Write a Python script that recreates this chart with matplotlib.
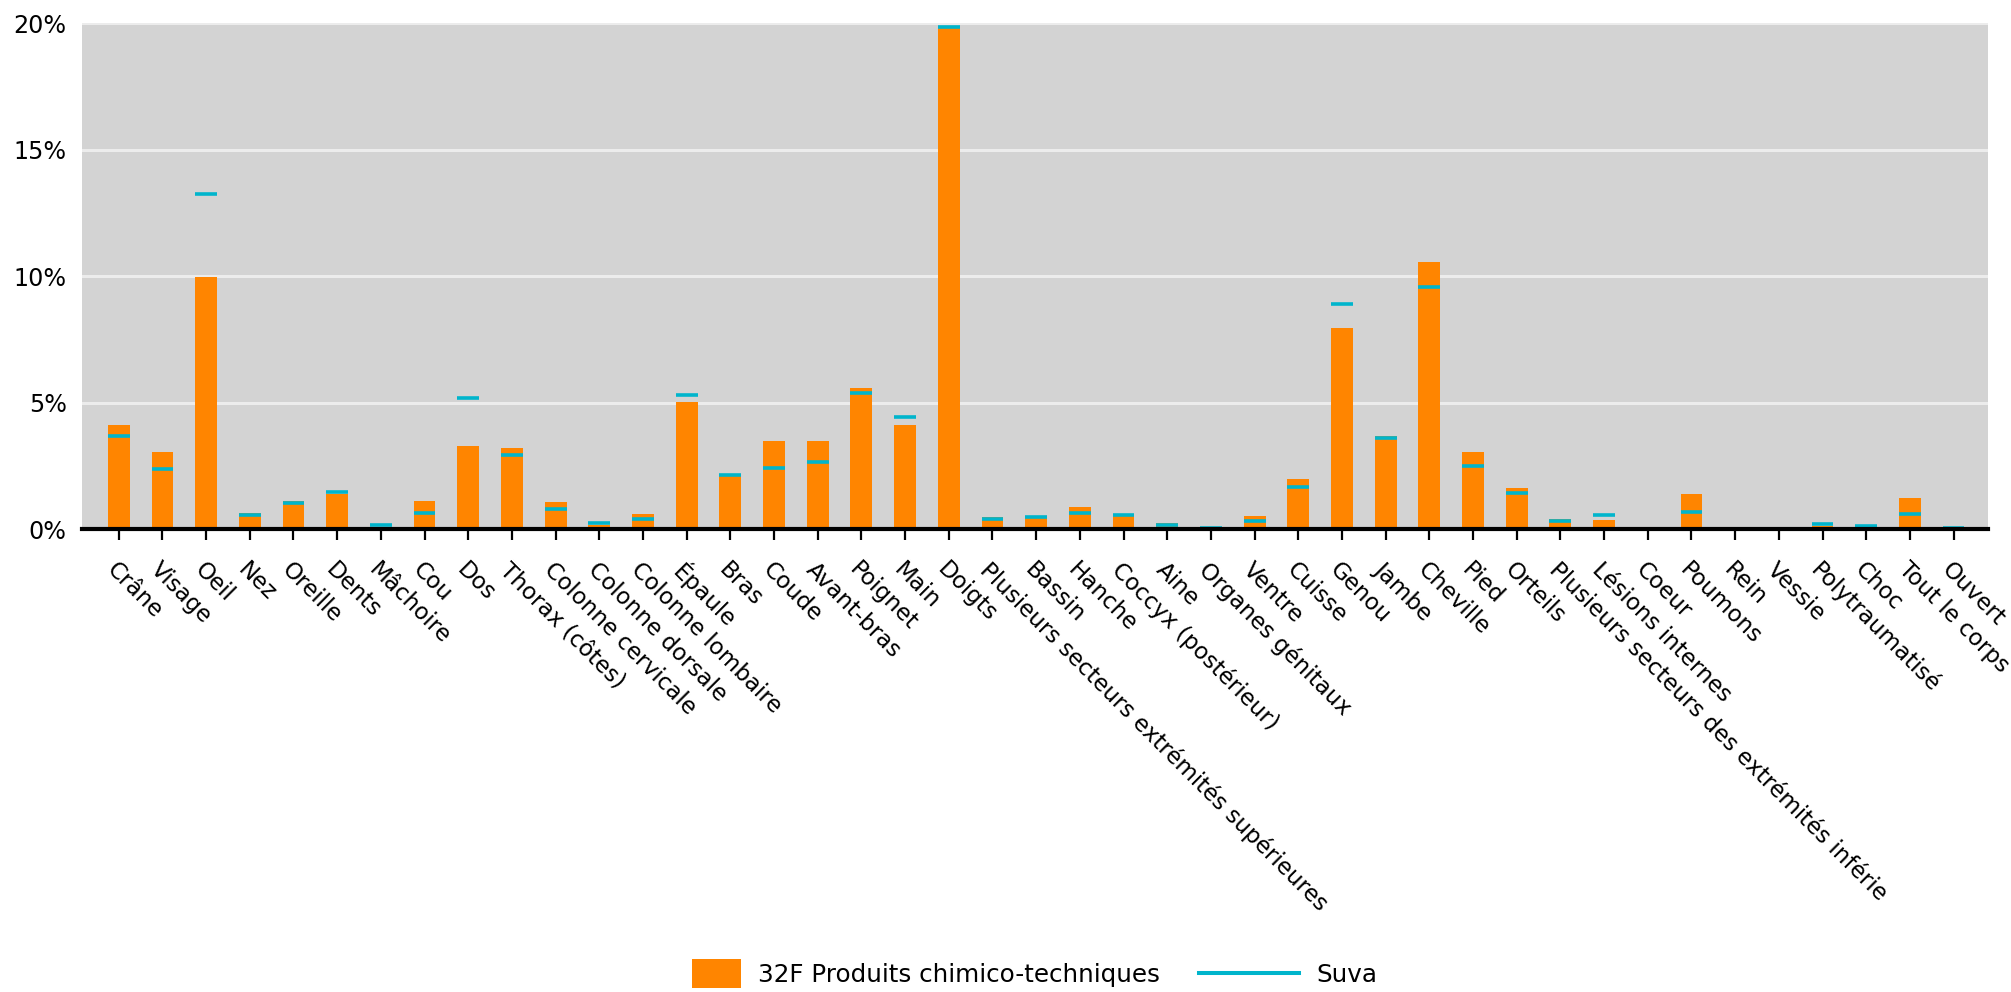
import numpy as np
import matplotlib
matplotlib.use("Agg")
import matplotlib.pyplot as plt
import matplotlib.patches as mpatches
from matplotlib.lines import Line2D
from matplotlib.legend_handler import HandlerPatch
from matplotlib.ticker import FuncFormatter

##############################################################
# data (percent)
categories = [
    "Crâne", "Visage", "Oeil", "Nez", "Oreille", "Dents", "Mâchoire", "Cou",
    "Dos", "Thorax (côtes)", "Colonne cervicale", "Colonne dorsale",
    "Colonne lombaire", "Épaule", "Bras", "Coude", "Avant-bras", "Poignet",
    "Main", "Doigts", "Plusieurs secteurs extrémités supérieures", "Bassin",
    "Hanche", "Coccyx (postérieur)", "Aine", "Organes génitaux", "Ventre",
    "Cuisse", "Genou", "Jambe", "Cheville", "Pied", "Orteils",
    "Plusieurs secteurs des extrémités inférie", "Lésions internes", "Coeur",
    "Poumons", "Rein", "Vessie", "Polytraumatisé", "Choc", "Tout le corps",
    "Ouvert",
]

branch = [
    4.12, 3.03, 9.97, 0.63, 1.10, 1.37, 0.08, 1.10,
    3.29, 3.20, 1.06, 0.15,
    0.59, 5.01, 2.15, 3.47, 3.47, 5.59,
    4.12, 19.80, 0.49, 0.45,
    0.86, 0.59, 0.24, 0.02, 0.51,
    1.99, 7.95, 3.67, 10.55, 3.03, 1.64,
    0.38, 0.34, 0.0,
    1.37, 0.0, 0.0, 0.12, 0.03, 1.21,
    0.0,
]
suva = [
    3.68, 2.37, 13.24, 0.55, 1.03, 1.48, 0.17, 0.63,
    5.18, 2.92, 0.80, 0.24,
    0.38, 5.30, 2.12, 2.41, 2.64, 5.36,
    4.44, 19.85, 0.41, 0.47,
    0.63, 0.54, 0.16, 0.04, 0.32,
    1.68, 8.91, 3.61, 9.58, 2.50, 1.41,
    0.31, 0.54, 0.02,
    0.66, 0.02, 0.01, 0.21, 0.11, 0.61,
    0.03,
]
yticks = [0, 5, 10, 15, 20]

ORANGE = "#ff8500"
CYAN = "#00b5cc"

##############################################################
plt.rcParams['font.family'] = ['DejaVu Sans']

fig = plt.figure(figsize=(20.11, 9.92), dpi=100)
ax = fig.add_axes([0.0408, 0.4667, 0.9478, 0.5101])
ax.set_facecolor("#d3d3d3")

x = np.arange(len(categories))
w = 0.5

ax.bar(x, branch, width=w, color=ORANGE, zorder=2)
ax.hlines(suva, x - w / 2, x + w / 2, color=CYAN, linewidth=2.6, zorder=3)

ax.set_xlim(-0.84, len(categories) - 1 + 0.79)
ax.set_ylim(0, 20)
ax.set_yticks(yticks)
ax.yaxis.set_major_formatter(FuncFormatter(lambda v, p: "%d%%" % v))
ax.grid(axis='y', color='#ececec', linewidth=2.2, zorder=1)
ax.set_axisbelow(True)

for s in ['top', 'right', 'left']:
    ax.spines[s].set_visible(False)
ax.spines['bottom'].set_color('black')
ax.spines['bottom'].set_linewidth(3)
ax.spines['bottom'].set_zorder(4)

ax.tick_params(axis='y', length=0, pad=11, labelsize=17.2)
ax.tick_params(axis='x', length=8, width=1.6, color='black', pad=13,
               labelsize=16.6, direction='out')
ax.set_xticks(x)
ax.set_xticklabels(categories, rotation=-45, ha='left', va='top',
                   rotation_mode='anchor')

##############################################################
# legend: small orange block + long cyan line
LEG_FS = 17.7

def make_block(legend, orig_handle, xdescent, ydescent, width, height, fontsize):
    bw, bh = 35.3, 20.9
    return mpatches.Rectangle((width - bw - xdescent, -ydescent + height / 2 - bh / 2),
                              bw, bh)

h_bar = mpatches.Patch(color=ORANGE, linewidth=0)
h_line = Line2D([0], [0], color=CYAN, linewidth=2.9)
fig.legend([h_bar, h_line], ["32F Produits chimico-techniques", "Suva"],
           loc='center left', bbox_to_anchor=(0.3187, 0.0171), ncol=2,
           frameon=False, fontsize=LEG_FS, handlelength=4.07, handletextpad=0.7,
           columnspacing=1.6, borderpad=0, borderaxespad=0,
           handler_map={mpatches.Patch: HandlerPatch(patch_func=make_block)})

fig.savefig("out.png", dpi=100)
